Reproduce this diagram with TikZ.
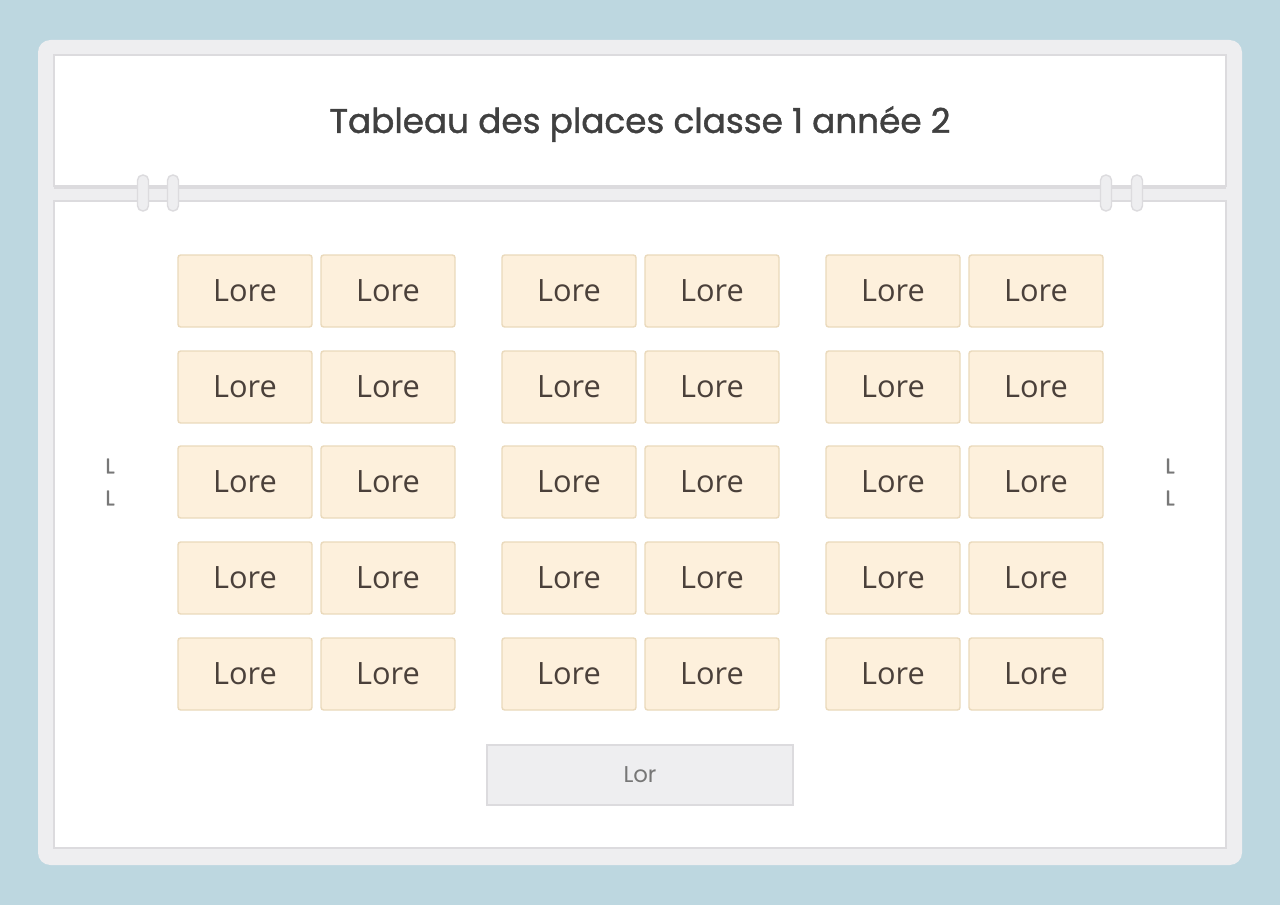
\documentclass[tikz,border=0pt]{standalone}
\usepackage{fontspec}
\setmainfont{Open Sans}
\newfontfamily\titlefont[FakeBold=1.2]{Poppins}
\newfontfamily\labelfont{Poppins}
\usetikzlibrary{positioning}
\definecolor{skyback}{HTML}{BDD7E0}
\definecolor{panelgray}{HTML}{EEEEF0}
\definecolor{edgegray}{HTML}{DCDBDE}
\definecolor{seatfill}{HTML}{FDF0DC}
\definecolor{seatedge}{HTML}{EAD9BB}
\definecolor{seattext}{HTML}{4A403A}
\definecolor{desktext}{HTML}{777777}

\begin{document}
\begin{tikzpicture}[x=0.02cm, y=-0.02cm,
        seat/.style={draw=seatedge, fill=seatfill, rounded corners=1.5pt, line width=0.8pt,
            minimum width=2.68cm, minimum height=1.44cm, inner sep=0pt,
            font=\fontsize{17.5}{20}\selectfont, text=seattext},
        ring/.style={draw=edgegray, fill=panelgray, line width=0.8pt, rounded corners=3pt},
        door/.style={font=\titlefont\fontsize{12}{14}\selectfont, text=desktext}
    ]
        % Background
        \fill[skyback] (0,0) rectangle (1280,905);
        \useasboundingbox (0,0) rectangle (1280,905);

        % Board frame
        \fill[panelgray, rounded corners=7pt] (38,40) rectangle (1242,865);
        \node[draw=edgegray, fill=white, line width=0.8pt, minimum width=23.44cm, minimum height=2.62cm] (header) at (640,120.5) {};
        \node[draw=edgegray, fill=white, line width=0.8pt, minimum width=23.44cm, minimum height=12.94cm] (room) at (640,524.5) {};
        \fill[edgegray] (54,186) rectangle (1226,189);

        % Title
        \node[font=\titlefont\fontsize{19.5}{24}\selectfont, text=black!75] (title) at (640,124) {Tableau des places classe 1 année 2};

        % Rings
        \foreach \rx in {143,173,1106,1137}
            \draw[ring] (\rx-5.5,175) rectangle (\rx+5.5,211);

        % Seats
        \foreach \cx [count=\c] in {245,388,569,712,893,1036}
            \foreach \cy [count=\r] in {291,387,482,578,674}
                \node[seat] (seat-\r-\c) at (\cx,\cy) {Lore};

        % Teacher desk
        \node[draw=edgegray, fill=panelgray, line width=0.8pt, minimum width=6.12cm, minimum height=1.2cm,
            font=\labelfont\fontsize{13}{15}\selectfont, text=desktext] (desk) at (640,775) {Lor};

        % Doors
        \node[door] (door-l1) at (110,466) {L};
        \node[door] (door-l2) at (110,498) {L};
        \node[door] (door-r1) at (1170,466) {L};
        \node[door] (door-r2) at (1170,498) {L};
    \end{tikzpicture}
\end{document}
